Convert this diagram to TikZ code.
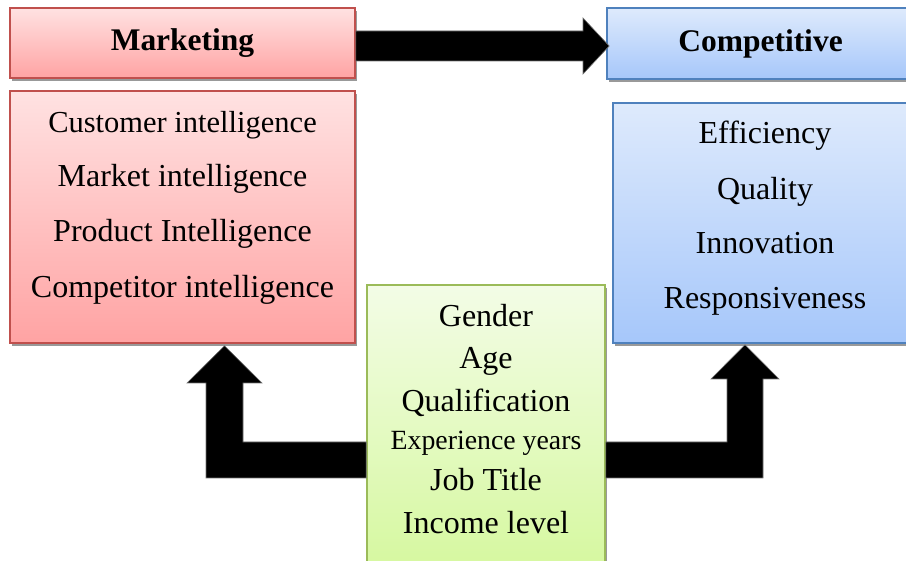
\documentclass[tikz,border=0pt]{standalone}
\usepackage{fontspec}
\setmainfont{Liberation Serif}
\usetikzlibrary{shadows,calc}

\definecolor{redEdge}{RGB}{192,80,77}
\definecolor{redTop}{RGB}{255,226,226}
\definecolor{redBot}{RGB}{255,163,163}
\definecolor{blueEdge}{RGB}{79,129,189}
\definecolor{blueTop}{RGB}{222,234,252}
\definecolor{blueBot}{RGB}{166,199,250}
\definecolor{greenEdge}{RGB}{155,187,89}
\definecolor{greenTop}{RGB}{243,252,230}
\definecolor{greenBot}{RGB}{213,248,158}

\begin{document}
\begin{tikzpicture}[x=1pt,y=-1pt,
  box/.style={draw, line width=1.6pt, inner sep=0pt,
    drop shadow={shadow xshift=1.5pt, shadow yshift=-3pt, fill=black!40, opacity=1}},
  redbox/.style={box, draw=redEdge, top color=redTop, bottom color=redBot},
  bluebox/.style={box, draw=blueEdge, top color=blueTop, bottom color=blueBot},
  greenbox/.style={box, draw=greenEdge, top color=greenTop, bottom color=greenBot},
  title/.style={font=\bfseries\fontsize{31.5}{38}\selectfont},
  item/.style={font=\fontsize{32}{38}\selectfont, anchor=base, inner sep=0pt},
  smallitem/.style={item, font=\fontsize{30.5}{36}\selectfont},
  tinyitem/.style={item, font=\fontsize{27.8}{32}\selectfont},
  fat/.style={fill=black, draw=black!55, line width=0.6pt, line join=miter}]
\useasboundingbox (0,0) rectangle (906,561);
\clip (0,0) rectangle (906,561);

% header boxes
\node[redbox, title, minimum width=345pt, minimum height=70pt] (mkt) at (182.5,43) {Marketing};
\node[bluebox, title, minimum width=307pt, minimum height=71pt] (comp) at (760.5,43.5) {Competitive};

% list boxes
\node[redbox, minimum width=345pt, minimum height=252pt] (mktlist) at (182.5,217) {};
\node[bluebox, minimum width=304pt, minimum height=240pt] (complist) at (765,223) {};
\node[greenbox, minimum width=238pt, minimum height=290pt] (demo) at (486,430) {};

% list entries
\node[smallitem] (m1) at (182.5,133) {Customer intelligence};
\foreach \t/\y [count=\i from 2] in {Market intelligence/187,
    Product Intelligence/242,Competitor intelligence/298}
  \node[item] (m\i) at (182.5,\y) {\t};
\foreach \t/\y [count=\i] in {Efficiency/144,Quality/200,Innovation/254,Responsiveness/309}
  \node[item] (c\i) at (765,\y) {\t};
\node[item] (d1) at (486,327) {Gender};
\node[item] (d2) at (486,369) {Age};
\node[item] (d3) at (486,412) {Qualification};
\node[tinyitem] (d4) at (486,450) {Experience years};
\node[item] (d5) at (486,491) {Job Title};
\node[item] (d6) at (486,533) {Income level};

% block arrows
\filldraw[fat] (mkt.east |- 0,31) -- (583,31) -- (583,18)
  -- ($(comp.west |- 0,46)+(3,0)$) -- (583,74) -- (583,61)
  -- (mkt.east |- 0,61) -- cycle;
\filldraw[fat] (demo.west |- 0,442) -- (243,442) -- (243,383) -- (262,383)
  -- ($(mktlist.south -| 224.5,0)+(0,2)$) -- (187,383) -- (206,383) -- (206,478)
  -- (demo.west |- 0,478) -- cycle;
\filldraw[fat] (demo.east |- 0,442) -- (727,442) -- (727,379) -- (711,379)
  -- ($(complist.south -| 745,0)+(0,1)$) -- (779,379) -- (763,379) -- (763,478)
  -- (demo.east |- 0,478) -- cycle;
\end{tikzpicture}
\end{document}
